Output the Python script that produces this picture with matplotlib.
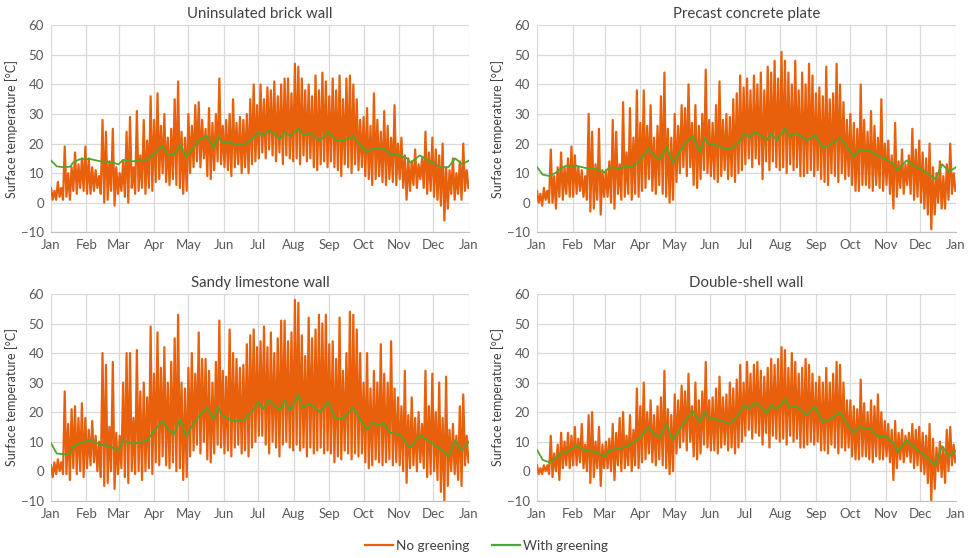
import numpy as np
import matplotlib
matplotlib.use("Agg")
import matplotlib.pyplot as plt

plt.rcParams['font.family'] = ['Lato', 'DejaVu Sans']

# month ticks (day of year)
month_days = [0, 31, 59, 90, 120, 151, 181, 212, 243, 273, 304, 334, 365]
month_labels = ["Jan", "Feb", "Mar", "Apr", "May", "Jun", "Jul", "Aug", "Sep", "Oct", "Nov", "Dec", "Jan"]

titles = ["Uninsulated brick wall", "Precast concrete plate", "Sandy limestone wall", "Double-shell wall"]

# no greening: upper / lower envelope every 3 days
brick_hi = [5, 4, 7, 5, 19, 10, 12, 17, 13, 15, 19,
            15, 12, 11, 9, 28, 24, 14, 25, 12,
            10, 14, 24, 29, 12, 31, 16, 28, 21, 36,
            28, 37, 26, 30, 22, 25, 35, 41, 24, 22,
            30, 26, 33, 34, 28, 25, 32, 27, 30, 42, 26,
            28, 30, 35, 27, 29, 28, 30, 35, 40, 33,
            40, 35, 39, 38, 41, 36, 40, 42, 42, 37,
            47, 46, 42, 38, 40, 36, 43, 38, 44, 41,
            36, 42, 38, 43, 35, 42, 43, 40, 35, 28,
            29, 32, 26, 37, 28, 24, 31, 26, 22, 33, 20,
            22, 16, 15, 14, 18, 13, 15, 24, 17, 22,
            18, 16, 20, 12, 11, 15, 10, 14, 20, 11]
brick_lo = [1, 1, 2, 1, 2, 1, 4, 3, 5, 4, 3,
            3, 4, 5, 3, 0, 1, 4, -1, 3,
            4, 2, 0, 5, 3, 4, 5, 3, 5, 4,
            7, 8, 10, 7, 6, 8, 6, 5, 3, 4,
            10, 12, 14, 12, 15, 9, 8, 11, 14, 13, 12,
            11, 9, 12, 13, 10, 12, 10, 13, 14, 15,
            17, 15, 18, 16, 14, 17, 13, 16, 15, 14,
            15, 13, 16, 14, 15, 12, 11, 13, 14, 12,
            14, 12, 11, 9, 13, 12, 10, 13, 11, 12,
            9, 8, 6, 8, 9, 7, 6, 8, 7, 6, 8,
            5, 1, 4, 6, 5, 8, 5, 3, 4, 2,
            1, -1, -6, -2, 3, 1, 3, 1, 4, 5]

concrete_hi = [4, 3, 5, 4, 18, 9, 12, 17, 12, 15, 19,
               16, 12, 11, 9, 30, 24, 13, 25, 11,
               11, 14, 28, 24, 13, 34, 17, 32, 22, 38,
               27, 38, 26, 33, 22, 26, 36, 44, 25, 22,
               30, 26, 33, 32, 40, 27, 33, 26, 30, 45, 28,
               27, 33, 41, 28, 30, 29, 35, 37, 43, 39,
               42, 38, 43, 40, 44, 38, 46, 44, 48, 42,
               51, 48, 44, 40, 48, 38, 44, 40, 47, 43,
               37, 39, 36, 46, 35, 37, 47, 40, 34, 28,
               30, 27, 25, 40, 28, 24, 31, 26, 22, 35, 20,
               21, 16, 27, 14, 18, 13, 16, 25, 18, 21,
               17, 15, 20, 12, 10, 14, 9, 13, 20, 10]
concrete_lo = [0, -1, 1, 0, 0, -2, 2, 1, 3, 2, 2,
               3, 4, 2, 1, -3, -2, 1, -4, 2,
               2, 0, -2, 3, 1, 2, 3, 1, 3, 2,
               4, 5, 8, 4, 3, 6, 3, 2, 0, 1,
               7, 10, 12, 9, 12, 6, 5, 8, 11, 10, 9,
               8, 7, 9, 11, 8, 9, 7, 10, 11, 13,
               15, 12, 15, 13, 8, 14, 11, 14, 12, 11,
               12, 10, 13, 11, 12, 9, 9, 10, 11, 9,
               11, 8, 7, 6, 10, 9, 7, 10, 8, 9,
               6, 4, 4, 6, 6, 5, 4, 6, 5, 4, 6,
               3, -2, 2, 5, 3, 6, 3, 1, 2, 0,
               -2, -4, -9, -4, 0, -2, -2, 1, 3, 4]

limestone_hi = [2, 3, 4, 3, 27, 16, 21, 22, 18, 23, 18,
                14, 17, 12, 10, 40, 36, 15, 37, 13,
                12, 30, 40, 40, 18, 41, 27, 30, 25, 49,
                33, 47, 35, 42, 30, 37, 45, 53, 30, 28,
                35, 40, 33, 47, 38, 38, 34, 30, 37, 51, 34,
                32, 48, 40, 38, 35, 36, 43, 46, 48, 42,
                44, 49, 42, 47, 40, 45, 51, 51, 44, 47,
                58, 57, 46, 39, 52, 45, 48, 53, 50, 53,
                43, 44, 38, 52, 34, 40, 54, 53, 48, 40,
                30, 40, 28, 34, 30, 43, 33, 30, 44, 28, 25,
                22, 34, 19, 25, 18, 20, 16, 34, 22, 33,
                20, 30, 18, 32, 14, 16, 12, 22, 26, 12]
limestone_lo = [-2, -1, 0, -1, -1, -3, 1, -1, 0, -2, 1,
                2, 3, 0, -2, -5, -4, 0, -6, -1,
                1, -2, -4, 0, -1, 0, -3, 0, 1, -1,
                3, 2, 5, 2, 1, 3, 0, 1, -3, -2,
                5, 7, 9, 6, 10, 4, 3, 6, 9, 8, 6,
                7, 5, 8, 9, 6, 7, 5, 8, 10, 12,
                12, 9, 6, 10, 8, 5, 9, 10, 8, 7,
                9, 7, 8, 5, 8, 6, 7, 8, 6, 7,
                6, 3, 5, 4, 7, 6, 4, 6, 5, 6,
                3, 1, 2, 4, 3, 2, 3, 4, 2, 3, 2,
                0, -4, 1, 2, 0, 3, 1, -2, -1, 0,
                -3, -7, -10, -5, 0, -1, -3, -5, 2, 3]

double_hi = [2, 1, 2, 2, 12, 6, 9, 13, 10, 13, 12,
             15, 11, 16, 9, 19, 20, 10, 15, 9,
             10, 11, 16, 13, 18, 20, 12, 19, 14, 28,
             22, 30, 20, 24, 19, 22, 25, 34, 21, 19,
             26, 24, 29, 27, 33, 22, 30, 24, 27, 37, 24,
             25, 28, 32, 25, 26, 30, 28, 31, 36, 30,
             37, 33, 36, 37, 34, 32, 35, 38, 36, 38,
             42, 41, 35, 40, 37, 33, 35, 38, 36, 33,
             30, 32, 30, 35, 30, 33, 37, 36, 30, 24,
             24, 22, 21, 31, 23, 20, 24, 22, 26, 20, 17,
             16, 14, 17, 13, 14, 12, 13, 16, 14, 15,
             13, 12, 16, 11, 8, 10, 8, 14, 15, 9]
double_lo = [-1, -1, 0, -1, -2, 0, -3, 1, 2, 1, 2,
             2, 3, 1, 0, -4, -2, 1, -5, 1,
             1, 0, -3, 2, 0, 1, 2, 0, 2, 1,
             3, 4, 6, 3, 2, 4, 2, 1, -1, 0,
             6, 8, 10, 7, 10, 5, 4, 6, 9, 8, 7,
             7, 6, 8, 9, 7, 8, 6, 8, 10, 12,
             14, 11, 13, 12, 9, 13, 8, 12, 11, 10,
             11, 9, 12, 10, 11, 8, 8, 9, 10, 9,
             10, 7, 7, 6, 9, 8, 6, 8, 7, 8,
             5, 4, 4, 5, 5, 4, 3, 5, 4, 4, 5,
             3, -3, 1, 4, 3, 5, 3, 1, 2, 0,
             -1, -4, -10, -6, 0, -2, -4, 0, 2, 3]

# with greening: day of year and values
green_days = [0, 5, 11, 17, 19, 25, 34, 43, 51, 59, 63, 72, 78, 84, 89, 97, 102, 107, 113, 118,
              124, 130, 136, 142, 146, 149, 156, 162, 168, 177, 181, 185, 190, 196, 200, 204, 209,
              216, 220, 226, 235, 242, 249, 255, 264, 270, 276, 281, 287, 290, 296, 305, 311, 314,
              322, 331, 340, 347, 353, 359, 365]
brick_green = [14.3, 12.3, 12, 12.2, 13.5, 14.7, 14.8, 14, 13.8, 13, 14.5, 14, 14.5, 14.5, 16,
               19.3, 16.5, 16, 19.7, 15.5, 18.5, 21.5, 22.5, 18.5, 22.5, 20.5, 20.5, 19.5, 19.5,
               22, 24, 22.5, 24.5, 23, 21.5, 24, 22.5, 25, 23, 23.5, 21, 24, 21, 21, 22.5, 19.5,
               17, 18.5, 18, 18.5, 16.5, 16, 15, 13.5, 16, 14, 12, 12, 15, 13, 14.3]
concrete_green = [12, 9.5, 9, 10.3, 11, 12.5, 12.5, 11.7, 11.3, 10.3, 12, 11.7, 12.3, 12.5, 14,
                  18.3, 16, 14.5, 18.8, 13.5, 17, 20.5, 22.5, 17, 22, 20, 19.5, 18.5, 18, 21,
                  23.5, 22, 24, 22.5, 21, 23.5, 21, 25, 22.5, 23.5, 21, 23, 18.5, 19.5, 22, 19,
                  15.5, 18, 17.5, 17.5, 16, 14.5, 13, 11, 14.3, 12, 10, 8, 13, 10.5, 12]
limestone_green = [9.5, 6, 5.7, 6, 8.3, 9.5, 10.5, 9, 8.5, 7, 10.3, 9.3, 9.8, 10.5, 13, 17,
                   14.5, 12.3, 17.7, 11.7, 16, 19, 21.5, 17.5, 22, 19, 17.5, 17, 17, 21, 23.5,
                   21, 24, 22, 20.5, 24, 20.5, 26, 21.5, 23, 20, 23.5, 17.5, 18, 21.5, 17.5, 14,
                   16.5, 15.5, 16.5, 13, 12.5, 9, 8, 12.3, 10, 7.5, 5, 10.5, 7, 10]
double_green = [7.2, 3.8, 3, 4.5, 5.8, 6.3, 8.5, 7, 6.5, 5, 7, 7.7, 8.3, 9.8, 11, 15, 12.5,
                11.5, 16, 10.5, 14, 17.5, 20.3, 16.5, 20, 18.3, 17.5, 17, 16, 20, 22.5, 21,
                23.3, 21.5, 19.5, 22.5, 21, 24.5, 21.5, 22, 19, 22, 16.5, 17.5, 20, 16, 13, 15,
                14.5, 14.5, 12, 11.5, 9.5, 6.5, 10.5, 7.3, 4.5, 2, 8.5, 5, 7]

hi_series = [brick_hi, concrete_hi, limestone_hi, double_hi]
lo_series = [brick_lo, concrete_lo, limestone_lo, double_lo]
green_series = [brick_green, concrete_green, limestone_green, double_green]

orange = "#E8600C"
green = "#4EA72E"
grid_c = "#D9D9D9"
text_c = "#595959"

fig = plt.figure(figsize=(9.73, 5.58), dpi=100)
positions = [
    [0.0524, 0.5837, 0.4296, 0.3710],
    [0.5519, 0.5837, 0.4306, 0.3710],
    [0.0524, 0.1027, 0.4296, 0.3704],
    [0.5519, 0.1027, 0.4306, 0.3704],
]

for i in range(4):
    ax = fig.add_axes(positions[i])
    hi = np.array(hi_series[i], dtype=float)
    lo = np.array(lo_series[i], dtype=float)
    days = np.arange(len(hi)) * 3.0
    x = np.column_stack([days, days + 1.5]).ravel()
    y = np.column_stack([hi, lo]).ravel()
    ax.plot(x, y, color=orange, lw=1.6, zorder=2)
    ax.plot(green_days, green_series[i], color=green, lw=1.3, zorder=3)

    ax.set_xlim(0, 365)
    ax.set_ylim(-10, 60)
    ax.set_yticks(range(-10, 61, 10))
    ax.set_xticks(month_days)
    ax.set_xticklabels(month_labels)
    ax.grid(True, color=grid_c, lw=0.9, zorder=0)
    ax.set_axisbelow(True)
    for s in ["top", "right", "left"]:
        ax.spines[s].set_visible(False)
    ax.spines["bottom"].set_color("#BFBFBF")
    ax.tick_params(length=0, labelsize=9.5, colors=text_c, pad=5)
    ax.set_title(titles[i], fontsize=10.8, color="#404040", pad=5)
    ax.set_ylabel("Surface temperature [°C]", fontsize=9, color="#404040", labelpad=2)

handles = [plt.Line2D([], [], color=orange, lw=1.6), plt.Line2D([], [], color=green, lw=1.6)]
fig.legend(handles, ["No greening", "With greening"], loc="center", ncol=2,
           bbox_to_anchor=(0.5, 0.022), frameon=False, fontsize=9.7,
           handlelength=2.1, handletextpad=0.2, columnspacing=1.7, labelcolor="#404040")

fig.savefig("out.png", dpi=100)
